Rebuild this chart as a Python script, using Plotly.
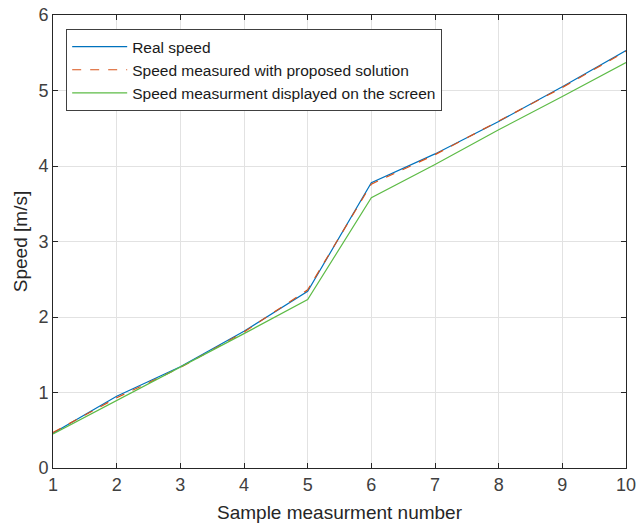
import plotly.graph_objects as go

samples = [1, 2, 3, 4, 5, 6, 7, 8, 9, 10]
real_speed = [0.46, 0.95, 1.34, 1.81, 2.34, 3.78, 4.16, 4.59, 5.05, 5.53]
proposed_speed = [0.47, 0.93, 1.33, 1.80, 2.36, 3.76, 4.15, 4.60, 5.04, 5.52]
screen_speed = [0.45, 0.89, 1.33, 1.78, 2.23, 3.58, 4.02, 4.48, 4.92, 5.37]
x_ticks = [1, 2, 3, 4, 5, 6, 7, 8, 9, 10]
y_ticks = [0, 1, 2, 3, 4, 5, 6]

FONT = "Liberation Sans, Arial"

fig = go.Figure()
fig.add_trace(go.Scatter(x=samples, y=real_speed, mode="lines", name="Real speed",
                         line=dict(color="#0072BD", width=1.2)))
fig.add_trace(go.Scatter(x=samples, y=proposed_speed, mode="lines",
                         name="Speed measured with proposed solution",
                         line=dict(color="#D95319", width=1.2, dash="dash")))
fig.add_trace(go.Scatter(x=samples, y=screen_speed, mode="lines",
                         name="Speed measurment displayed on the screen",
                         line=dict(color="#5DBB46", width=1.2)))

axis_common = dict(showline=True, linecolor="#262626", linewidth=1, mirror="ticks",
                   ticks="inside", ticklen=5, tickcolor="#262626",
                   showgrid=True, gridcolor="#E2E2E2", gridwidth=1, zeroline=False,
                   automargin=False,
                   tickfont=dict(family=FONT, size=18, color="#404040"))

fig.update_xaxes(range=[1, 10], tickvals=x_ticks,
                 title=dict(text="Sample measurment number", standoff=12,
                            font=dict(family=FONT, size=19, color="#262626")),
                 **axis_common)
fig.update_yaxes(range=[0, 6], tickvals=y_ticks,
                 title=dict(text="Speed [m/s]", standoff=5,
                            font=dict(family=FONT, size=19, color="#262626")),
                 **axis_common)

fig.update_layout(
    width=639, height=525,
    margin=dict(l=53, r=13, t=15, b=57),
    paper_bgcolor="white", plot_bgcolor="white",
    legend=dict(x=0.023, y=0.969, xanchor="left", yanchor="top",
                bgcolor="white", bordercolor="#404040", borderwidth=1,
                font=dict(family=FONT, size=15.5, color="#1a1a1a"),
                itemwidth=55, tracegroupgap=0),
    showlegend=True,
)

fig.write_html("out.html", config={"displayModeBar": False},
               post_script="document.body.style.margin='0';document.body.style.overflow='hidden';")
